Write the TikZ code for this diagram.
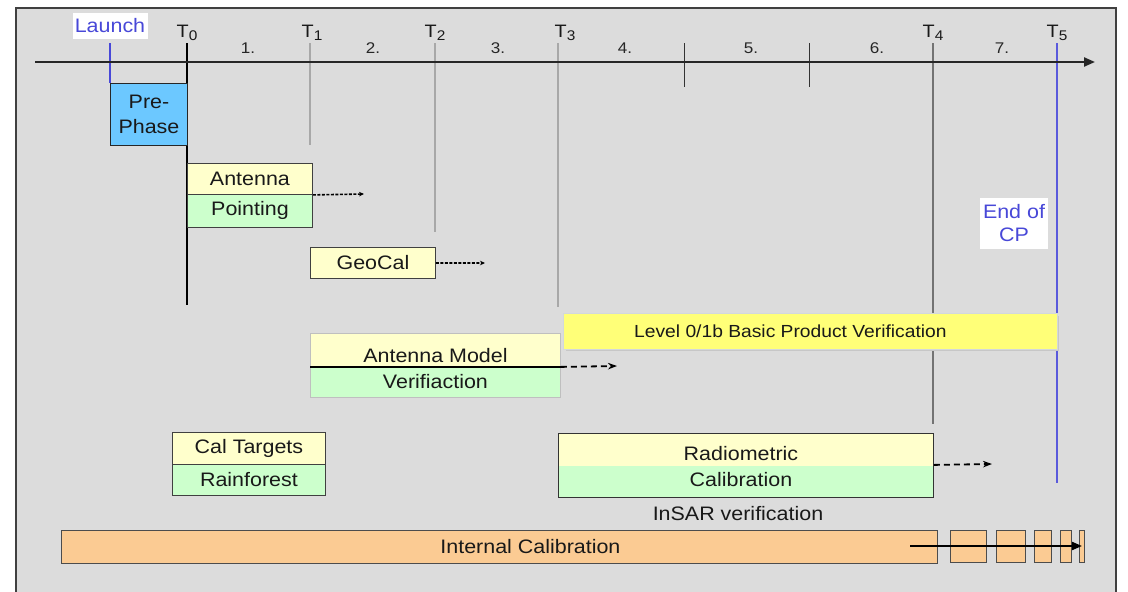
\documentclass[tikz,border=0pt]{standalone}
\usepackage{fontspec}
\setmainfont{Liberation Sans}[FakeStretch=1.1]
\usetikzlibrary{arrows.meta}
\definecolor{bggray}{HTML}{DCDCDC}
\definecolor{preblue}{HTML}{6CC8FF}
\definecolor{lyellow}{HTML}{FFFFCC}
\definecolor{lgreen}{HTML}{CCFFCC}
\definecolor{byellow}{HTML}{FFFF78}
\definecolor{peach}{HTML}{FBCB93}
\definecolor{lblue}{HTML}{4848D8}
\definecolor{glline}{HTML}{A8A8A8}
\newcommand{\Tlab}[1]{T\raisebox{-0.4ex}{\fontsize{14}{14}\selectfont #1}}
\tikzset{
  x=1pt, y=-1pt,
  every node/.style={font=\fontsize{19.5}{23}\selectfont, inner sep=0pt, text=black!90},
  boxy/.style={draw=black!75, line width=0.9pt, fill=lyellow, anchor=north west},
  boxg/.style={draw=black!75, line width=0.9pt, fill=lgreen, anchor=north west},
  tlab/.style={font=\fontsize{18}{18}\selectfont, anchor=base},
  numlab/.style={font=\fontsize{15.5}{15.5}\selectfont, text=black!85},
  dotarrow/.style={line width=1.6pt, dash pattern=on 3pt off 1.5pt, -{Stealth[length=5pt,width=4.5pt]}},
  dasharrow/.style={line width=1.8pt, dash pattern=on 6pt off 4pt, -{Stealth[length=9pt,width=6.5pt]}},
  vline/.style={line width=1.8pt, glline},
  smallbox/.style={draw=black!70, line width=0.9pt, fill=peach, anchor=north west, minimum height=32pt},
}
\begin{document}
\begin{tikzpicture}
\useasboundingbox (0,0) rectangle (1128,592);
\fill[white] (0,0) rectangle (1128,592);
\draw[fill=bggray, draw=black!75, line width=1.2pt] (16,8) rectangle (1116,600);

% timeline coordinates
\coordinate (cL) at (110,43);
\coordinate (c0) at (187,43);
\coordinate (c1) at (310,43);
\coordinate (c2) at (435,43);
\coordinate (c3) at (558,43);
\coordinate (c45) at (684,43);
\coordinate (c56) at (809,43);
\coordinate (c4) at (933,43);
\coordinate (c5) at (1057,43);
\coordinate (cLb) at (110,83);
\coordinate (c0b) at (187,305);
\coordinate (c1b) at (310,145);
\coordinate (c2b) at (435,232);
\coordinate (c3b) at (558,307);
\coordinate (c45b) at (684,87);
\coordinate (c56b) at (809,87);
\coordinate (c4b) at (933,424);
\coordinate (c5b) at (1057,483);

% vertical lines
\draw[lblue, line width=1.2pt] (cL) -- (cLb);
\draw[black, line width=1.3pt] (c0) -- (c0b);
\draw[vline] (c1) -- (c1b);
\draw[vline] (c2) -- (c2b);
\draw[vline] (c3) -- (c3b);
\draw[black!80, line width=1pt] (c45) -- (c45b);
\draw[black!80, line width=1pt] (c56) -- (c56b);
\draw[black!55, line width=1.8pt] (c4) -- (c4b);
\draw[lblue!90, line width=1.2pt] (c5) -- (c5b);

% axis
\coordinate (axs) at (35,62);
\coordinate (axe) at (1095,62);
\draw[line width=2.2pt, black!85, -{Triangle[length=11pt,width=9pt]}] (axs) -- (axe);

% labels on the axis
\node[fill=white, text=lblue, minimum width=75pt, minimum height=26pt] (launch) at (110,26) {Launch};
\node[tlab] (t0) at (187,37) {\Tlab{0}};
\node[tlab] (t1) at (312,37) {\Tlab{1}};
\node[tlab] (t2) at (435,37) {\Tlab{2}};
\node[tlab] (t3) at (565,37) {\Tlab{3}};
\node[tlab] (t4) at (933,37) {\Tlab{4}};
\node[tlab] (t5) at (1057,37) {\Tlab{5}};
\node[numlab] (n1) at (248,48) {1.};
\node[numlab] (n2) at (373,48) {2.};
\node[numlab] (n3) at (498,48) {3.};
\node[numlab] (n4) at (625,48) {4.};
\node[numlab] (n5) at (751,48) {5.};
\node[numlab] (n6) at (877,48) {6.};
\node[numlab] (n7) at (1002,48) {7.};

% Pre-Phase
\node[draw=black!85, line width=1pt, fill=preblue, anchor=north west, minimum width=77pt, minimum height=62pt, align=center, font=\fontsize{19.5}{25}\selectfont] (pre) at (110,83) {Pre-\\Phase};

% Antenna / Pointing
\node[boxy, minimum width=125pt, minimum height=31pt] (ant) at (187,163) {Antenna};
\node[boxg, minimum width=125pt, minimum height=33pt] (pnt) at (187,194) {Pointing};
\coordinate (antEnd) at (364,194);
\draw[dotarrow] (ant.south east) -- (antEnd);

% GeoCal
\node[boxy, minimum width=125pt, minimum height=31pt] (geo) at (310,247) {GeoCal};
\coordinate (geoEnd) at (485,263);
\draw[dotarrow] (geo.east) -- (geoEnd);

% Antenna Model Verification
\node[boxy, draw=black!25, minimum width=250pt, minimum height=33pt, text height=25pt, text depth=0pt] (amy) at (310,333) {Antenna Model};
\node[boxg, draw=black!25, minimum width=250pt, minimum height=31pt] (amg) at (310,366) {Verifiaction};
\draw[black, line width=2pt] (amy.south west) -- (amy.south east);
\coordinate (amEnd) at (617,366);
\draw[dasharrow] (amy.south east) -- (amEnd);

% Level 0/1b
\fill[black!22] (566,316) rectangle (1059,351);
\node[draw=cyan!20!black!20, line width=0.8pt, fill=byellow, anchor=north west, minimum width=494pt, minimum height=36pt, font=\fontsize{17.5}{20}\selectfont] (lvl) at (563,313) {Level 0/1b Basic Product Verification\hspace*{40pt}};

% End of CP
\node[fill=white, text=lblue, minimum width=68pt, minimum height=51pt, align=center, font=\fontsize{19.5}{23}\selectfont] (eocp) at (1014,223.5) {End of\\CP};

% Cal Targets / Rainforest
\node[boxy, minimum width=153pt, minimum height=32pt] (cal) at (172,432) {Cal Targets};
\node[boxg, minimum width=153pt, minimum height=31pt] (rain) at (172,464) {Rainforest};

% Radiometric Calibration
\node[boxy, draw=none, minimum width=375pt, minimum height=33pt, text height=21pt, text depth=0pt] (rady) at (558,433) {Radiometric\hspace*{10pt}};
\node[boxg, draw=none, minimum width=375pt, minimum height=31pt, text height=14pt, text depth=5pt] (radg) at (558,466) {Calibration\hspace*{10pt}};
\draw[black!80, line width=1pt] (rady.north west) rectangle (radg.south east);
\coordinate (radEnd) at (992,464);
\draw[dasharrow] (rady.south east) ++(0,-2) -- (radEnd);

% InSAR verification
\node (insar) at (738,514) {InSAR verification};

% Internal Calibration
\node[smallbox, minimum width=876pt, minimum height=33pt] (ic) at (61,530) {\hspace*{62pt}Internal Calibration};
\node[smallbox, minimum width=36pt] (sb1) at (950,530) {};
\node[smallbox, minimum width=29pt] (sb2) at (996,530) {};
\node[smallbox, minimum width=17pt] (sb3) at (1034,530) {};
\node[smallbox, minimum width=11pt] (sb4) at (1060,530) {};
\node[smallbox, minimum width=5pt] (sb5) at (1079,530) {};
\coordinate (icStart) at (910,546);
\coordinate (icEnd) at (1082,546);
\draw[line width=2pt, black, -{Triangle[length=10pt,width=8pt]}] (icStart) -- (icEnd);
\end{tikzpicture}
\end{document}
